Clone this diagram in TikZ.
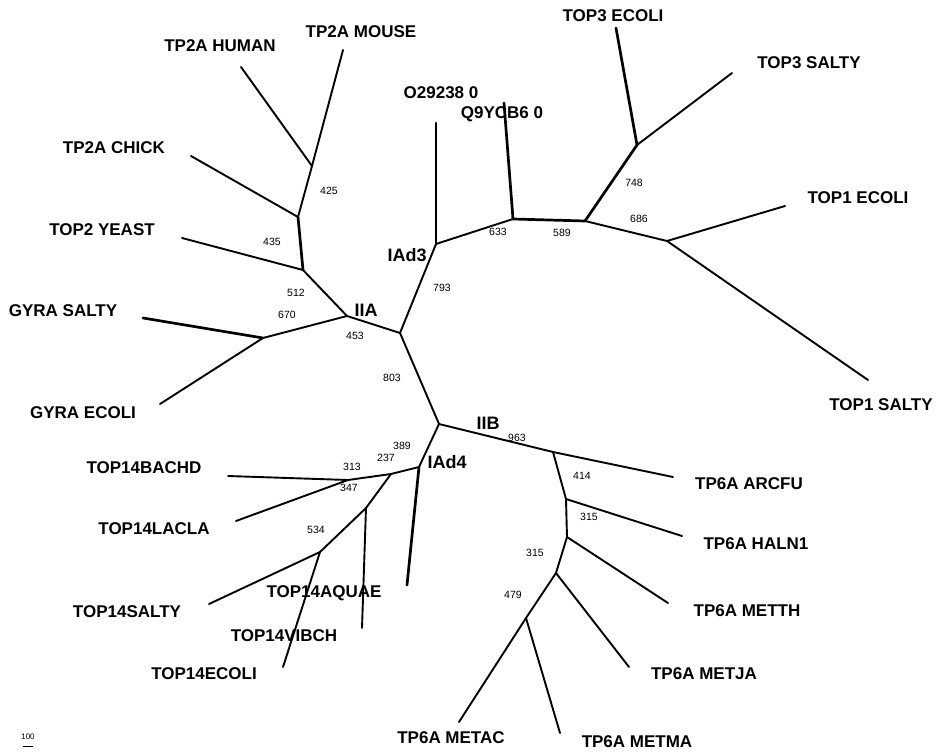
\documentclass[tikz,border=0pt]{standalone}
\usepackage{fontspec}
\setmainfont{Liberation Sans}
\usepackage{tikz}
\tikzset{
    branch/.style={draw=black, line width=1.9pt, line cap=round},
    heavy/.style={draw=black, line width=2.7pt, line cap=round},
    taxon/.style={font=\fontsize{17}{19}\selectfont\bfseries, inner sep=0pt},
    clade/.style={font=\fontsize{18}{20}\selectfont\bfseries, inner sep=0pt},
    boot/.style={font=\fontsize{10.5}{12}\selectfont, inner sep=0pt}
}

\begin{document}
\begin{tikzpicture}[x=1pt, y=-1pt]
\useasboundingbox (0,0) rectangle (939,752);
% inner nodes
\coordinate (ctr) at (400,333);
\coordinate (iia) at (347,316);
\coordinate (gyr) at (263,338);
\coordinate (yst) at (303,270);
\coordinate (chk) at (298,217);
\coordinate (hum) at (312,166);
\coordinate (iad3) at (436,244);
\coordinate (q9j) at (513,219);
\coordinate (t13) at (585,221);
\coordinate (top3) at (637,145);
\coordinate (top1) at (667,241);
\coordinate (iib) at (439,424);
\coordinate (arcj) at (553,452);
\coordinate (halj) at (566,499);
\coordinate (metj) at (567,537);
\coordinate (mjaj) at (556,573);
\coordinate (macj) at (526,618);
\coordinate (iad4) at (419,467);
\coordinate (j237) at (391,474);
\coordinate (j313) at (348,480);
\coordinate (aqj) at (366,508);
\coordinate (j534) at (320,552);
% leaf ends
\coordinate (eHuman) at (241,67);
\coordinate (eMouse) at (343,50);
\coordinate (eChick) at (191,156);
\coordinate (eYeast) at (182,238);
\coordinate (eGyrS) at (143,318);
\coordinate (eGyrE) at (160,404);
\coordinate (eO29) at (436,123);
\coordinate (eQ9Y) at (504,103);
\coordinate (eT3E) at (616,28);
\coordinate (eT3S) at (732,73);
\coordinate (eT1E) at (785,206);
\coordinate (eT1S) at (868,380);
\coordinate (eArc) at (673,477);
\coordinate (eHal) at (682,536);
\coordinate (eMth) at (668,603);
\coordinate (eMja) at (629,667);
\coordinate (eMac) at (459,722);
\coordinate (eMma) at (560,733);
\coordinate (eIad4) at (407,585);
\coordinate (eAq) at (362,628);
\coordinate (eBac) at (228,476);
\coordinate (eLac) at (236,521);
\coordinate (eSal) at (209,604);
\coordinate (eEco) at (283,667);
\coordinate (sbarL) at (23,746);
\coordinate (sbarR) at (33,746);

% taxa
\node[taxon] (tHuman) at (220,46) {TP2A HUMAN};
\node[taxon] (tMouse) at (361,32) {TP2A MOUSE};
\node[taxon] (tChick) at (114,148) {TP2A CHICK};
\node[taxon] (tYeast) at (102,230) {TOP2 YEAST};
\node[taxon] (tGyrS) at (63,311) {GYRA SALTY};
\node[taxon] (tGyrE) at (83,413) {GYRA ECOLI};
\node[taxon] (tO29) at (441,93) {O29238 0};
\node[taxon] (tQ9Y) at (502,114) {Q9YCB6 0};
\node[taxon] (tT3E) at (613,16) {TOP3 ECOLI};
\node[taxon] (tT3S) at (809,63) {TOP3 SALTY};
\node[taxon] (tT1E) at (858,198) {TOP1 ECOLI};
\node[taxon] (tT1S) at (881,405) {TOP1 SALTY};
\node[taxon] (tArc) at (749,484) {TP6A ARCFU};
\node[taxon] (tHal) at (756,544) {TP6A HALN1};
\node[taxon] (tMth) at (747,611) {TP6A METTH};
\node[taxon] (tMja) at (704,674) {TP6A METJA};
\node[taxon] (tMac) at (451,738) {TP6A METAC};
\node[taxon] (tMma) at (637,742) {TP6A METMA};
\node[taxon] (tBac) at (144,468) {TOP14BACHD};
\node[taxon] (tLac) at (154,529) {TOP14LACLA};
\node[taxon] (tSal) at (127,612) {TOP14SALTY};
\node[taxon] (tAq) at (324,593) {TOP14AQUAE};
\node[taxon] (tVib) at (284,636) {TOP14VIBCH};
\node[taxon] (tEco) at (204,674) {TOP14ECOLI};

% clades
\node[clade] (lIIA) at (366,310) {IIA};
\node[clade] (lIAd3) at (407,255) {IAd3};
\node[clade] (lIIB) at (488,423) {IIB};
\node[clade] (lIAd4) at (447,462) {IAd4};

% bootstrap values
\node[boot] (b425) at (329,191) {425};
\node[boot] (b435) at (272,242) {435};
\node[boot] (b512) at (296,293) {512};
\node[boot] (b670) at (287,315) {670};
\node[boot] (b453) at (355,336) {453};
\node[boot] (b793) at (442,288) {793};
\node[boot] (b803) at (392,378) {803};
\node[boot] (b633) at (498,232) {633};
\node[boot] (b589) at (562,233) {589};
\node[boot] (b748) at (634,183) {748};
\node[boot] (b686) at (639,219) {686};
\node[boot] (b963) at (517,438) {963};
\node[boot] (b414) at (582,476) {414};
\node[boot] (b315a) at (589,517) {315};
\node[boot] (b315b) at (535,553) {315};
\node[boot] (b479) at (513,595) {479};
\node[boot] (b389) at (402,446) {389};
\node[boot] (b237) at (386,458) {237};
\node[boot] (b313) at (352,467) {313};
\node[boot] (b347) at (349,488) {347};
\node[boot] (b534) at (316,530) {534};
\node[boot, font=\fontsize{8}{9}\selectfont] (scale) at (28,737) {100};

% branches
\draw[style={branch}] (ctr) -- (iia);
\draw[style={branch}] (ctr) -- (iad3);
\draw[style={branch}] (ctr) -- (iib);
\draw[style={branch}] (iia) -- (yst);
\draw[style={branch}] (iia) -- (gyr);
\draw[style={heavy}] (gyr) -- (eGyrS);
\draw[style={branch}] (gyr) -- (eGyrE);
\draw[style={branch}] (yst) -- (eYeast);
\draw[style={heavy}] (yst) -- (chk);
\draw[style={branch}] (chk) -- (eChick);
\draw[style={branch}] (chk) -- (hum);
\draw[style={branch}] (hum) -- (eHuman);
\draw[style={branch}] (hum) -- (eMouse);
\draw[style={heavy}] (iad3) -- (eO29);
\draw[style={branch}] (iad3) -- (q9j);
\draw[style={heavy}] (q9j) -- (eQ9Y);
\draw[style={heavy}] (q9j) -- (t13);
\draw[style={heavy}] (t13) -- (top3);
\draw[style={branch}] (t13) -- (top1);
\draw[style={heavy}] (top3) -- (eT3E);
\draw[style={branch}] (top3) -- (eT3S);
\draw[style={branch}] (top1) -- (eT1E);
\draw[style={branch}] (top1) -- (eT1S);
\draw[style={branch}] (iib) -- (arcj);
\draw[style={branch}] (arcj) -- (eArc);
\draw[style={branch}] (arcj) -- (halj);
\draw[style={branch}] (halj) -- (eHal);
\draw[style={branch}] (halj) -- (metj);
\draw[style={branch}] (metj) -- (eMth);
\draw[style={branch}] (metj) -- (mjaj);
\draw[style={branch}] (mjaj) -- (eMja);
\draw[style={branch}] (mjaj) -- (macj);
\draw[style={branch}] (macj) -- (eMac);
\draw[style={branch}] (macj) -- (eMma);
\draw[style={branch}] (iib) -- (iad4);
\draw[style={heavy}] (iad4) -- (eIad4);
\draw[style={branch}] (iad4) -- (j237);
\draw[style={branch}] (j237) -- (j313);
\draw[style={branch}] (j313) -- (eBac);
\draw[style={branch}] (j313) -- (eLac);
\draw[style={branch}] (j237) -- (aqj);
\draw[style={branch}] (aqj) -- (eAq);
\draw[style={branch}] (aqj) -- (j534);
\draw[style={branch}] (j534) -- (eSal);
\draw[style={branch}] (j534) -- (eEco);
\draw[line width=0.8pt] (sbarL) -- (sbarR);
\end{tikzpicture}
\end{document}
